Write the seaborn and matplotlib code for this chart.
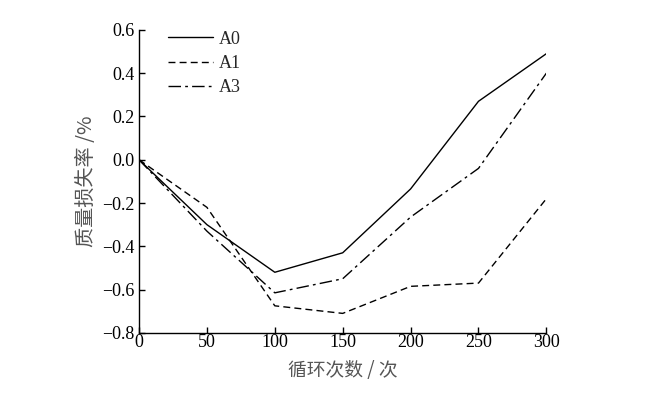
import pandas as pd
import matplotlib.pyplot as plt
import seaborn as sns

cycles = [0, 50, 100, 150, 200, 250, 300]
a0 = [0.0, -0.30, -0.52, -0.43, -0.135, 0.27, 0.49]
a1 = [0.0, -0.22, -0.675, -0.71, -0.585, -0.57, -0.18]
a3 = [0.0, -0.33, -0.615, -0.55, -0.265, -0.04, 0.40]
labels = ["A0", "A1", "A3"]
styles = ["-", (0, (5, 3)), (0, (9, 3, 2, 3))]

sns.set_style("ticks")
plt.rcParams["font.family"] = ["Liberation Serif", "Noto Sans CJK SC"]

fig = plt.figure(figsize=(6.7, 3.93), dpi=100)
ax = fig.add_axes([0.2075, 0.153, 0.608, 0.771])

for vals, lab, ls in zip([a0, a1, a3], labels, styles):
    df = pd.DataFrame({"x": cycles, "y": vals})
    sns.lineplot(data=df, x="x", y="y", ax=ax, color="black", linewidth=1.0,
                 linestyle=ls, label=lab)

ax.set_xlim(0, 300)
ax.set_ylim(-0.8, 0.6)
ax.set_xticks(range(0, 301, 50))
ax.set_yticks([-0.8, -0.6, -0.4, -0.2, 0.0, 0.2, 0.4, 0.6])
ax.set_yticklabels(["\u22120.8", "\u22120.6", "\u22120.4", "\u22120.2", "0.0", "0.2", "0.4", "0.6"])
ax.tick_params(direction="in", length=4, width=1, labelsize=13, colors="black")
ax.tick_params(axis="y", pad=3)
ax.tick_params(axis="x", pad=1)
sns.despine(ax=ax)
for s in ["left", "bottom"]:
    ax.spines[s].set_linewidth(1.0)
    ax.spines[s].set_color("black")

ax.set_xlabel("循环次数 / 次", fontsize=13.5, color="#555555", labelpad=6,
              family=["Noto Sans CJK SC", "Liberation Serif"])
ax.set_ylabel("质量损失率 /%", fontsize=14.5, color="#555555", labelpad=4,
              family=["Noto Sans CJK SC", "Liberation Serif"])

leg = ax.legend(loc="upper left", frameon=False, fontsize=13, handlelength=2.5,
                bbox_to_anchor=(0.071, 0.997), borderpad=0, borderaxespad=0,
                labelspacing=0.4, handletextpad=0.3)

fig.savefig("out.png", dpi=100)
